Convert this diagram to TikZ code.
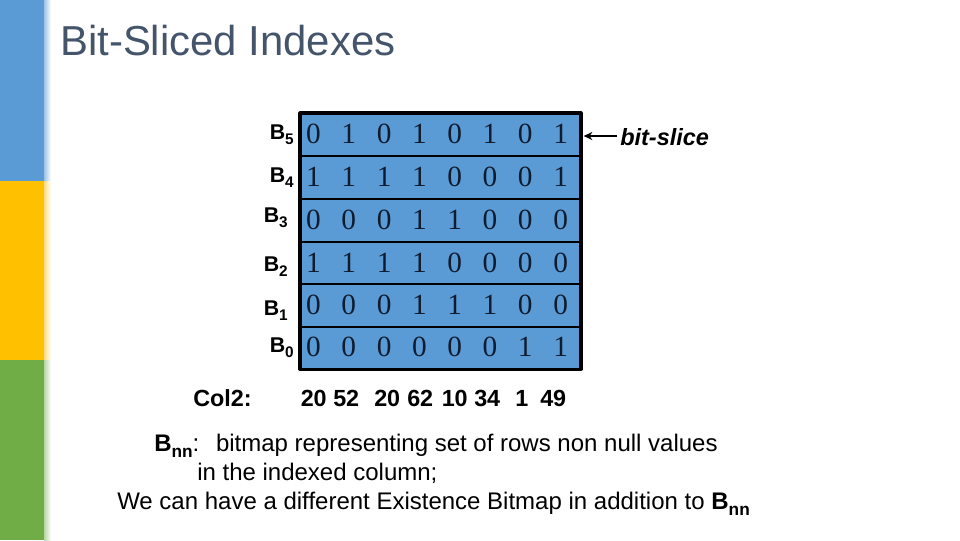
\documentclass[tikz,border=0pt]{standalone}
\usepackage{fontspec}
\setmainfont{Liberation Sans}
\newfontfamily\digitfont{Liberation Serif}
\usetikzlibrary{arrows.meta}
\newcommand{\lowsub}[1]{\raisebox{-0.28em}{\scalebox{0.72}{#1}}}
\definecolor{sideblue}{HTML}{5B9BD5}
\definecolor{sideyellow}{HTML}{FFC000}
\definecolor{sidegreen}{HTML}{70AD47}
\definecolor{titlecol}{HTML}{44546A}
\definecolor{digitcol}{HTML}{0F1C30}
\tikzset{
  x=0.75pt,y=-0.75pt,
  rowbox/.style={draw=black,fill=sideblue,line width=1.5pt,minimum width=210.75pt,minimum height=32pt,inner sep=0pt,outer sep=0pt,anchor=north west},
  gridframe/.style={draw=black,line width=2.4pt,line join=round},
  bitdigit/.style={font=\digitfont\fontsize{22}{24}\selectfont,text=digitcol,inner sep=0pt,anchor=base},
  bitlabel/.style={font=\fontsize{16}{19}\selectfont\bfseries,inner sep=0pt,anchor=base east},
  plaintext/.style={font=\fontsize{18}{21}\selectfont,inner sep=0pt,anchor=base west},
  boldtext/.style={font=\fontsize{17.5}{21}\selectfont\bfseries,inner sep=0pt,anchor=base west},
}
\begin{document}
\begin{tikzpicture}
\useasboundingbox (0,0) rectangle (960,540);
\fill[white] (0,0) rectangle (960,540);
% sidebar
\fill[sideblue] (0,0) rectangle (44,181);
\fill[sideyellow] (0,181) rectangle (44,360);
\fill[sidegreen] (0,360) rectangle (44,540);
\shade[left color=sideblue!60,right color=white] (44,0) rectangle (51,181);
\shade[left color=sideyellow!50,right color=white] (44,181) rectangle (51,360);
\shade[left color=sidegreen!50,right color=white] (44,360) rectangle (51,540);
% title
\node[font=\fontsize{31.4}{36}\selectfont,text=titlecol,inner sep=0pt,anchor=base west] (title) at (60,55) {Bit-Sliced Indexes};
% rows
\node[rowbox] (r5) at (300,113) {};
\node[rowbox] (r4) at (300,156) {};
\node[rowbox] (r3) at (300,199) {};
\node[rowbox] (r2) at (300,241.5) {};
\node[rowbox] (r1) at (300,284) {};
\node[rowbox] (r0) at (300,326.5) {};
\draw[gridframe] (r5.north west) rectangle (r0.south east);
% bits
\foreach \yy/\bits in {143/{0,1,0,1,0,1,0,1},186/{1,1,1,1,0,0,0,1},229/{0,0,0,1,1,0,0,0},272/{1,1,1,1,0,0,0,0},314/{0,0,0,1,1,1,0,0},356/{0,0,0,0,0,0,1,1}}{
  \foreach \b [count=\i from 0] in \bits {
    \node[bitdigit] (d\yy-\i) at ({313.5+\i*35.3},\yy) {\b};
  }
}
% row labels
\node[bitlabel] (l5) at (294,139) {B\lowsub{5}};
\node[bitlabel] (l4) at (294,182) {B\lowsub{4}};
\node[bitlabel] (l3) at (288,222) {B\lowsub{3}};
\node[bitlabel] (l2) at (288,271) {B\lowsub{2}};
\node[bitlabel] (l1) at (288,315) {B\lowsub{1}};
\node[bitlabel] (l0) at (294,352) {B\lowsub{0}};
% bit-slice
\node[font=\fontsize{17.6}{21}\selectfont\bfseries\itshape,inner sep=0pt,anchor=base west] (slice) at (620,145) {bit-slice};
\draw[-{Stealth[length=6.5pt,width=6pt]},line width=1.1pt,shorten <=2.5pt,shorten >=2pt] (slice.west |- 0,136) -- (r5.east |- 0,136);
% bottom
\node[boldtext] (col) at (193,406) {Col2:};
\foreach \v/\x in {20/300.5,52/333,20/374,62/407,10/441.5,34/474,1/515,49/540}{
  \node[boldtext] (val\x) at (\x,406) {\v};
}
\node[plaintext] (b1) at (154,451) {\textbf{B\lowsub{nn}}:\hspace{12.5pt}bitmap representing set of rows non null values};
\node[plaintext] (b2) at (197,480) {in the indexed column;};
\node[plaintext] (b3) at (117,509) {We can have a different Existence Bitmap in addition to \textbf{B\lowsub{nn}}};
\end{tikzpicture}
\end{document}
